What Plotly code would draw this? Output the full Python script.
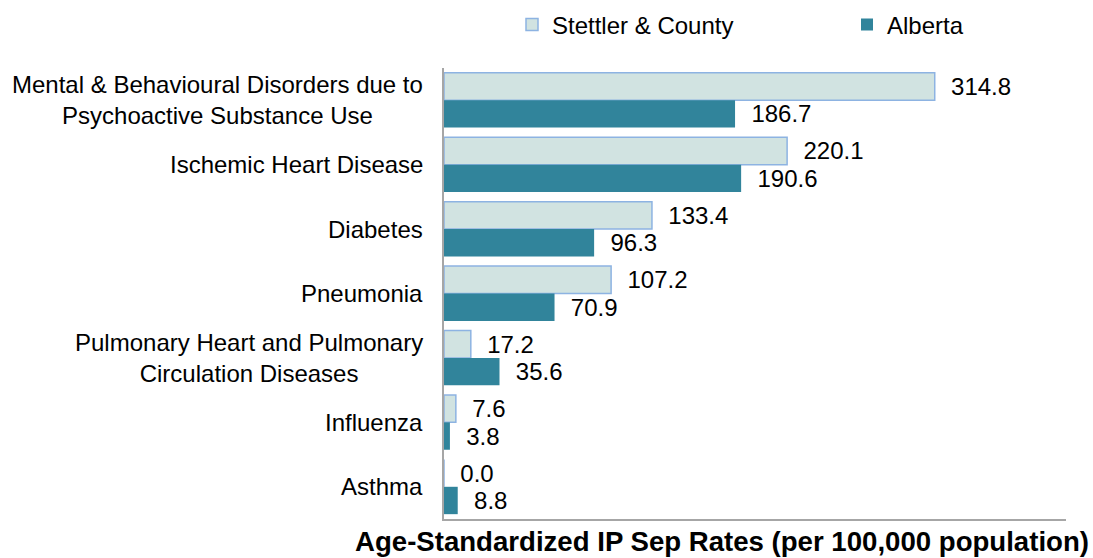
import plotly.graph_objects as go

categories = [
    "Mental & Behavioural Disorders due to<br>Psychoactive Substance Use",
    "Ischemic Heart Disease",
    "Diabetes",
    "Pneumonia",
    "Pulmonary Heart and Pulmonary<br>Circulation Diseases",
    "Influenza",
    "Asthma",
]
stettler = [314.8, 220.1, 133.4, 107.2, 17.2, 7.6, 0.0]
alberta = [186.7, 190.6, 96.3, 70.9, 35.6, 3.8, 8.8]
series_names = ["Stettler & County", "Alberta"]
axis_title = "Age-Standardized IP Sep Rates (per 100,000 population)"

W, H = 1093, 558
L, R, T, B = 444, 27, 68, 39
PW = W - L - R
PH = H - T - B
FONT = "Liberation Sans, Arial, sans-serif"
FS = 24

fig = go.Figure()
fig.add_trace(go.Bar(
    y=categories, x=stettler, orientation="h", name=series_names[0],
    marker=dict(color="#D1E3E1", line=dict(color="#8DB3E2", width=1.5)),
    text=stettler, texttemplate="\u00a0\u00a0%{x:.1f}", textposition="outside",
    textfont=dict(family=FONT, size=FS, color="#000000"), cliponaxis=False,
    legend="legend",
))
fig.add_trace(go.Bar(
    y=categories, x=alberta, orientation="h", name=series_names[1],
    marker=dict(color="#31849B", line=dict(width=0)),
    text=alberta, texttemplate="\u00a0\u00a0%{x:.1f}", textposition="outside",
    textfont=dict(family=FONT, size=FS, color="#000000"), cliponaxis=False,
    legend="legend2",
))

# category labels: lines centred on each other, block right-aligned to the axis
for c in categories:
    fig.add_annotation(
        x=0, xref="paper", xanchor="right", xshift=-19,
        y=c, yref="y", yanchor="middle",
        text=c, align="center", showarrow=False,
        font=dict(family=FONT, size=FS, color="#000000"),
    )

fig.add_annotation(
    x=(1091 - L) / PW, xref="paper",
    y=-22 / PH, yref="paper", yanchor="middle", xanchor="right",
    text="<b>" + axis_title + "</b>", showarrow=False,
    font=dict(family=FONT, size=27.6, color="#000000"),
)

leg_common = dict(
    orientation="h", xanchor="left", yanchor="middle", y=1.0 + 43 / PH,
    font=dict(family=FONT, size=FS, color="#000000"),
    bgcolor="rgba(0,0,0,0)", borderwidth=0,
)
fig.update_layout(
    width=W, height=H,
    margin=dict(l=L, r=R, t=T, b=B, autoexpand=False),
    paper_bgcolor="white", plot_bgcolor="white",
    barmode="group", bargap=0.15, bargroupgap=0.0,
    showlegend=True,
    legend=dict(x=(512 - L) / PW, **leg_common),
    legend2=dict(x=(847 - L) / PW, **leg_common),
    xaxis=dict(range=[0, 399], showgrid=False, zeroline=False, showticklabels=False,
               showline=True, linecolor="#A6A6A6", linewidth=2, ticks=""),
    yaxis=dict(autorange="reversed", showgrid=False, showticklabels=False,
               showline=True, linecolor="#A6A6A6", linewidth=2, ticks=""),
    font=dict(family=FONT),
)

fig.write_html(
    "out.html",
    config={"displayModeBar": False},
    post_script="document.body.style.margin='0';document.body.style.padding='0';",
)
